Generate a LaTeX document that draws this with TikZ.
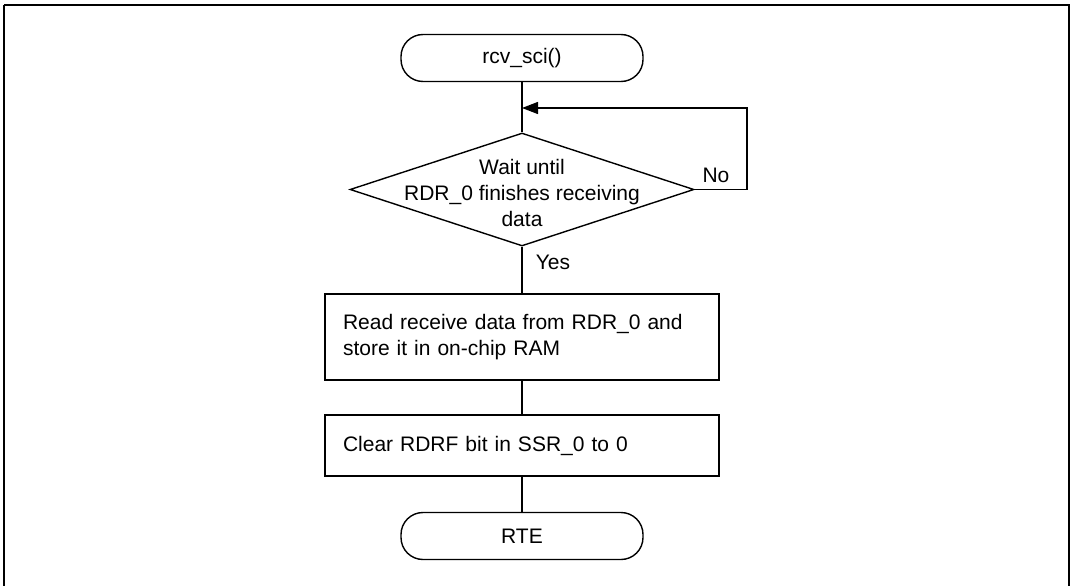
\documentclass[tikz,border=0pt]{standalone}
\usepackage{fontspec}
\setmainfont{Liberation Sans}
\usetikzlibrary{arrows.meta,shapes.geometric}
\begin{document}
\begin{tikzpicture}[x=1pt,y=-1pt,
  every node/.style={font=\fontsize{21}{26}\selectfont},
  line/.style={line width=1.4pt},
  term/.style={draw,line width=1.4pt,rectangle,rounded corners=22pt,minimum width=242pt,minimum height=47pt,inner sep=0pt},
  proc/.style={draw,line width=1.4pt,rectangle,text width=358pt,align=left,inner xsep=18pt,inner ysep=0pt,minimum width=394pt},
  decision/.style={draw,line width=1.4pt,diamond,minimum width=344pt,minimum height=113pt,inner sep=0pt},
  lbl/.style={inner sep=0pt}]
\useasboundingbox (0,0) rectangle (1074,586);
\draw[line width=2.6pt] (4,5) -- (1069,5) -- (1069,600) (4,600) -- (4,5);
\node[term] (start) at (522,58) {rcv\_sci()};
\node[decision] (dec) at (522,189.5) {};
\node[align=center,inner sep=0pt] (dectext) at (522,193) {Wait until\\RDR\_0 finishes receiving\\data};
\node[proc,minimum height=86pt] (read) at (522,337) {Read receive data from RDR\_0 and\\store it in on-chip RAM};
\node[proc,minimum height=61pt] (clear) at (522,445.5) {Clear RDRF bit in SSR\_0 to 0};
\node[term] (rte) at (522,536) {RTE};
\coordinate (loop) at (522,108);
\coordinate (right) at (747,189.5);
\draw[line] (start.south) -- (dec.north);
\draw[line,-{Triangle[length=16pt,width=12pt]}] (dec.east) -- (right) |- (loop);
\draw[line] (dec.south) -- (read.north);
\draw[line] (read.south) -- (clear.north);
\draw[line] (clear.south) -- (rte.north);
\node[lbl] (no) at (716,175) {No};
\node[lbl] (yes) at (553,262) {Yes};
\end{tikzpicture}
\end{document}
